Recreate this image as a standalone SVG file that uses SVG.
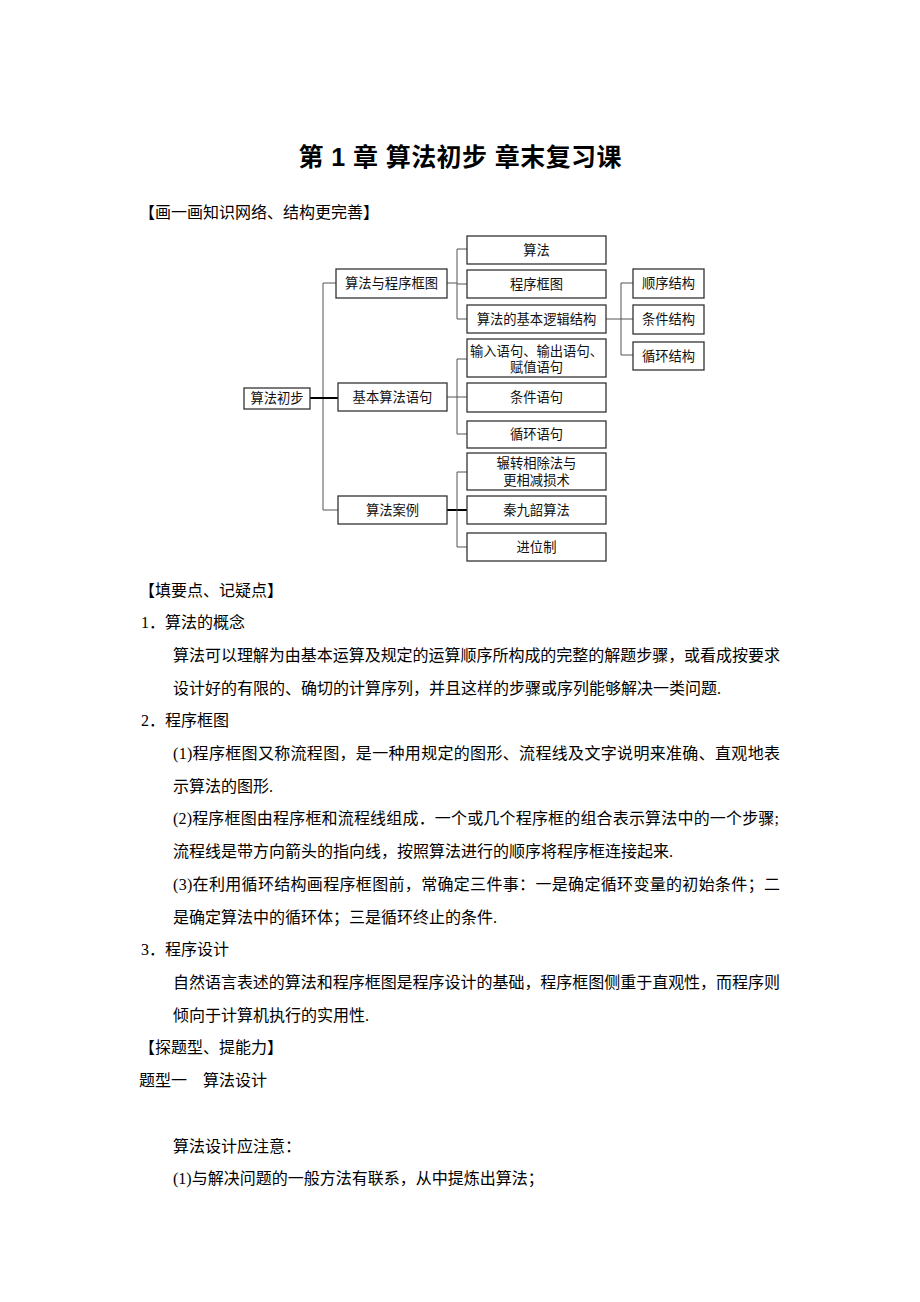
<svg xmlns="http://www.w3.org/2000/svg" width="920" height="1302" viewBox="0 0 920 1302">
<style>
.bg{fill:#fff}
.box{fill:#fff;stroke:#333;stroke-width:1.3}
.bt{font-family:"Liberation Serif","Noto Sans CJK SC",serif;font-size:13.3px;fill:#111;text-anchor:middle;dominant-baseline:central}
.ln{stroke:#555;stroke-width:1;fill:none}
.thick{stroke:#000;stroke-width:2;fill:none}
.title{font-family:"Liberation Sans","Noto Sans CJK SC",sans-serif;font-size:25px;font-weight:bold;fill:#000;text-anchor:middle;dominant-baseline:central}
.tx{font-family:"Liberation Serif","Noto Sans CJK SC",serif;font-size:16px;fill:#000;dominant-baseline:central}
</style>
<rect class="bg" x="0" y="0" width="920" height="1302"/>
<text class="title" x="460" y="157" textLength="323" lengthAdjust="spacing">第 1 章 算法初步 章末复习课</text>
<text class="tx" x="139" y="212">【画一画知识网络、结构更完善】</text>

<g id="connectors">
<polyline class="ln" points="336,283 323,283 323,510 338,510"/>
<line class="thick" x1="310" y1="398" x2="338" y2="398"/>
<line class="ln" x1="447" y1="283" x2="457" y2="283"/>
<polyline class="ln" points="467,249 457,249 457,319 467,319"/>
<line class="ln" x1="457" y1="284" x2="467" y2="284"/>
<line class="ln" x1="447" y1="397" x2="467" y2="397"/>
<polyline class="ln" points="467,359 457,359 457,434 467,434"/>
<line class="thick" x1="447" y1="510" x2="467" y2="510"/>
<polyline class="ln" points="467,472 457,472 457,547 467,547"/>
<line class="ln" x1="606" y1="319" x2="633" y2="319"/>
<polyline class="ln" points="633,283 621,283 621,355 633,355"/>
</g>

<g id="n-root"><rect class="box" x="244" y="388" width="66" height="21"/><text class="bt" x="277" y="398.5">算法初步</text></g>
<g id="n-flow"><rect class="box" x="336" y="269" width="111" height="29"/><text class="bt" x="391.5" y="283.5">算法与程序框图</text></g>
<g id="n-stmt"><rect class="box" x="338" y="383" width="109" height="28"/><text class="bt" x="392.5" y="397">基本算法语句</text></g>
<g id="n-case"><rect class="box" x="338" y="496" width="109" height="28"/><text class="bt" x="392.5" y="510">算法案例</text></g>

<g id="n-alg"><rect class="box" x="467" y="236" width="139" height="28"/><text class="bt" x="536.5" y="250">算法</text></g>
<g id="n-chart"><rect class="box" x="467" y="270" width="139" height="28"/><text class="bt" x="536.5" y="284">程序框图</text></g>
<g id="n-logic"><rect class="box" x="467" y="305" width="139" height="28"/><text class="bt" x="536.5" y="319">算法的基本逻辑结构</text></g>
<g id="n-io"><rect class="box" x="467" y="339" width="139" height="38"/><text class="bt" x="536.5" y="351">输入语句、输出语句、</text><text class="bt" x="536.5" y="367">赋值语句</text></g>
<g id="n-cond"><rect class="box" x="467" y="383" width="139" height="29"/><text class="bt" x="536.5" y="397.5">条件语句</text></g>
<g id="n-loop"><rect class="box" x="467" y="421" width="139" height="27"/><text class="bt" x="536.5" y="434.5">循环语句</text></g>
<g id="n-gcd"><rect class="box" x="467" y="453" width="139" height="37"/><text class="bt" x="536.5" y="463.5">辗转相除法与</text><text class="bt" x="536.5" y="480">更相减损术</text></g>
<g id="n-qin"><rect class="box" x="467" y="496" width="139" height="28"/><text class="bt" x="536.5" y="510">秦九韶算法</text></g>
<g id="n-base"><rect class="box" x="467" y="533" width="139" height="28"/><text class="bt" x="536.5" y="547">进位制</text></g>

<g id="n-seq"><rect class="box" x="633" y="269" width="71" height="29"/><text class="bt" x="668.5" y="283.5">顺序结构</text></g>
<g id="n-if"><rect class="box" x="633" y="305" width="71" height="29"/><text class="bt" x="668.5" y="319.5">条件结构</text></g>
<g id="n-while"><rect class="box" x="633" y="342" width="71" height="28"/><text class="bt" x="668.5" y="356">循环结构</text></g>

<g id="body">
<text class="tx" x="139" y="590">【填要点、记疑点】</text>
<text class="tx" x="141" y="622.7">1．算法的概念</text>
<text class="tx" x="173" y="655.4" textLength="607" lengthAdjust="spacing">算法可以理解为由基本运算及规定的运算顺序所构成的完整的解题步骤，或看成按要求</text>
<text class="tx" x="173" y="688.1">设计好的有限的、确切的计算序列，并且这样的步骤或序列能够解决一类问题.</text>
<text class="tx" x="141" y="720.8">2．程序框图</text>
<text class="tx" x="173" y="753.5" textLength="607" lengthAdjust="spacing">(1)程序框图又称流程图，是一种用规定的图形、流程线及文字说明来准确、直观地表</text>
<text class="tx" x="173" y="786.2">示算法的图形.</text>
<text class="tx" x="173" y="818.9" textLength="606" lengthAdjust="spacing">(2)程序框图由程序框和流程线组成．一个或几个程序框的组合表示算法中的一个步骤;</text>
<text class="tx" x="173" y="851.6">流程线是带方向箭头的指向线，按照算法进行的顺序将程序框连接起来.</text>
<text class="tx" x="173" y="884.3" textLength="607" lengthAdjust="spacing">(3)在利用循环结构画程序框图前，常确定三件事：一是确定循环变量的初始条件；二</text>
<text class="tx" x="173" y="917">是确定算法中的循环体；三是循环终止的条件.</text>
<text class="tx" x="141" y="949.7">3．程序设计</text>
<text class="tx" x="173" y="982.4" textLength="607" lengthAdjust="spacing">自然语言表述的算法和程序框图是程序设计的基础，程序框图侧重于直观性，而程序则</text>
<text class="tx" x="173" y="1015.1">倾向于计算机执行的实用性.</text>
<text class="tx" x="139" y="1047.8">【探题型、提能力】</text>
<text class="tx" x="139" y="1080.5">题型一　算法设计</text>
<text class="tx" x="173" y="1146">算法设计应注意：</text>
<text class="tx" x="173" y="1178.6">(1)与解决问题的一般方法有联系，从中提炼出算法；</text>
</g>
</svg>
